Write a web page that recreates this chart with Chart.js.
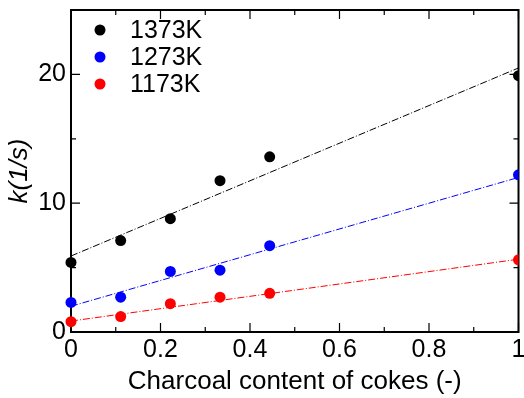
<!DOCTYPE html>
<html>
<head>
<meta charset="utf-8">
<script src="https://cdn.jsdelivr.net/npm/chart.js@4.4.1/dist/chart.umd.min.js"></script>
<style>
  html, body { margin: 0; padding: 0; background: #fff; }
  #wrap { width: 524px; height: 398px; position: relative; }
</style>
</head>
<body>
<div id="wrap"><canvas id="kChart"></canvas></div>
<script>
// charcoal content of cokes (-)
const charcoal = [0, 0.111, 0.222, 0.333, 0.444, 1];

// rate constant k (1/s) per temperature
const k1373 = [5.4, 7.1, 8.8, 11.75, 13.6, 19.9];
const k1273 = [2.3, 2.7, 4.7, 4.8, 6.7, 12.2];
const k1173 = [0.8, 1.2, 2.2, 2.7, 3.0, 5.6];

// fitted lines, value at x=0 and x=1
const fitX = [0, 1];
const fit1373 = [5.9, 20.5];
const fit1273 = [2.0, 12.0];
const fit1173 = [0.85, 5.65];

const seriesNames = ['1373K', '1273K', '1173K'];
const seriesColors = ['#000000', '#0000ff', '#ff0000'];

const xMajor = [0, 0.2, 0.4, 0.6, 0.8, 1];
const xMinor = [0.1, 0.3, 0.5, 0.7, 0.9];
const yMajor = [0, 10, 20];
const yMinor = [5, 15];

const FONT = '"Liberation Sans", Arial, sans-serif';

const toPts = (xs, ys) => xs.map((x, i) => ({ x: x, y: ys[i] }));

// box + inward ticks on all four sides
const framePlugin = {
    id: 'frame',
    beforeDatasetsDraw(chart) {
        const { ctx, chartArea: a, scales: { x, y } } = chart;
        ctx.save();
        ctx.strokeStyle = '#000';
        ctx.lineWidth = 1.2;
        ctx.beginPath();
        const xt = (v, len) => {
            const p = x.getPixelForValue(v);
            ctx.moveTo(p, a.bottom); ctx.lineTo(p, a.bottom - len);
            ctx.moveTo(p, a.top); ctx.lineTo(p, a.top + len);
        };
        const yt = (v, len) => {
            const p = y.getPixelForValue(v);
            ctx.moveTo(a.left, p); ctx.lineTo(a.left + len, p);
            ctx.moveTo(a.right, p); ctx.lineTo(a.right - len, p);
        };
        xMajor.forEach(v => xt(v, 9));
        xMinor.forEach(v => xt(v, 5));
        yMajor.forEach(v => yt(v, 9));
        yMinor.forEach(v => yt(v, 5));
        ctx.stroke();
        ctx.lineWidth = 2;
        ctx.strokeRect(a.left, a.top, a.right - a.left, a.bottom - a.top);
        ctx.restore();
    },
    afterDraw(chart) {
        const { ctx } = chart;
        ctx.save();
        ctx.font = '25px ' + FONT;
        ctx.textBaseline = 'middle';
        seriesNames.forEach((name, i) => {
            const cy = 30 + i * 27;
            ctx.fillStyle = seriesColors[i];
            ctx.beginPath();
            ctx.arc(100, cy, 5.5, 0, Math.PI * 2);
            ctx.fill();
            ctx.fillStyle = '#000';
            ctx.fillText(name, 130, cy + 1);
        });
        ctx.restore();
    }
};

function pointSet(label, ys, color) {
    return {
        label: label,
        data: toPts(charcoal, ys),
        showLine: false,
        pointRadius: 5.5,
        pointHoverRadius: 5.5,
        pointBackgroundColor: color,
        pointBorderWidth: 0,
        borderColor: color,
        clip: { left: 10, top: 10, right: 0, bottom: 10 }
    };
}

function fitSet(ys, color) {
    return {
        label: '',
        data: toPts(fitX, ys),
        showLine: true,
        pointRadius: 0,
        borderColor: color,
        borderWidth: 1,
        borderDash: [7, 2, 1, 2]
    };
}

new Chart(document.getElementById('kChart'), {
    type: 'scatter',
    data: {
        datasets: [
            fitSet(fit1373, seriesColors[0]),
            fitSet(fit1273, seriesColors[1]),
            fitSet(fit1173, seriesColors[2]),
            pointSet(seriesNames[0], k1373, seriesColors[0]),
            pointSet(seriesNames[1], k1273, seriesColors[1]),
            pointSet(seriesNames[2], k1173, seriesColors[2])
        ]
    },
    options: {
        responsive: true,
        maintainAspectRatio: false,
        animation: false,
        layout: { padding: { top: 10, right: 2, left: 0, bottom: 0 } },
        plugins: {
            legend: { display: false },
            tooltip: { enabled: false }
        },
        scales: {
            x: {
                type: 'linear',
                min: 0,
                max: 1,
                grid: { display: false, drawTicks: false },
                border: { display: false },
                ticks: {
                    stepSize: 0.2,
                    padding: 3,
                    color: '#000',
                    font: { family: FONT, size: 25 },
                    maxRotation: 0,
                    callback: v => String(+(+v).toFixed(1))
                },
                title: {
                    display: true,
                    text: 'Charcoal content of cokes (-)',
                    color: '#000',
                    font: { family: FONT, size: 26 },
                    padding: { top: 0, bottom: 1 }
                },
                afterFit(scale) {
                    scale.height = 66;
                    scale.paddingLeft = 0;
                    scale.paddingRight = 0;
                }
            },
            y: {
                type: 'linear',
                min: 0,
                max: 25,
                grid: { display: false, drawTicks: false },
                border: { display: false },
                ticks: {
                    stepSize: 10,
                    includeBounds: false,
                    padding: 5,
                    color: '#000',
                    font: { family: FONT, size: 25 },
                    callback: v => yMajor.includes(v) ? String(v) : ''
                },
                title: {
                    display: true,
                    text: 'k(1/s)',
                    color: '#000',
                    font: { family: FONT, size: 26, style: 'italic' },
                    padding: { top: 4, bottom: 0 }
                },
                afterFit(scale) {
                    scale.width = 71;
                    scale.paddingTop = 0;
                    scale.paddingBottom = 0;
                }
            }
        }
    },
    plugins: [framePlugin]
});
</script>
</body>
</html>
